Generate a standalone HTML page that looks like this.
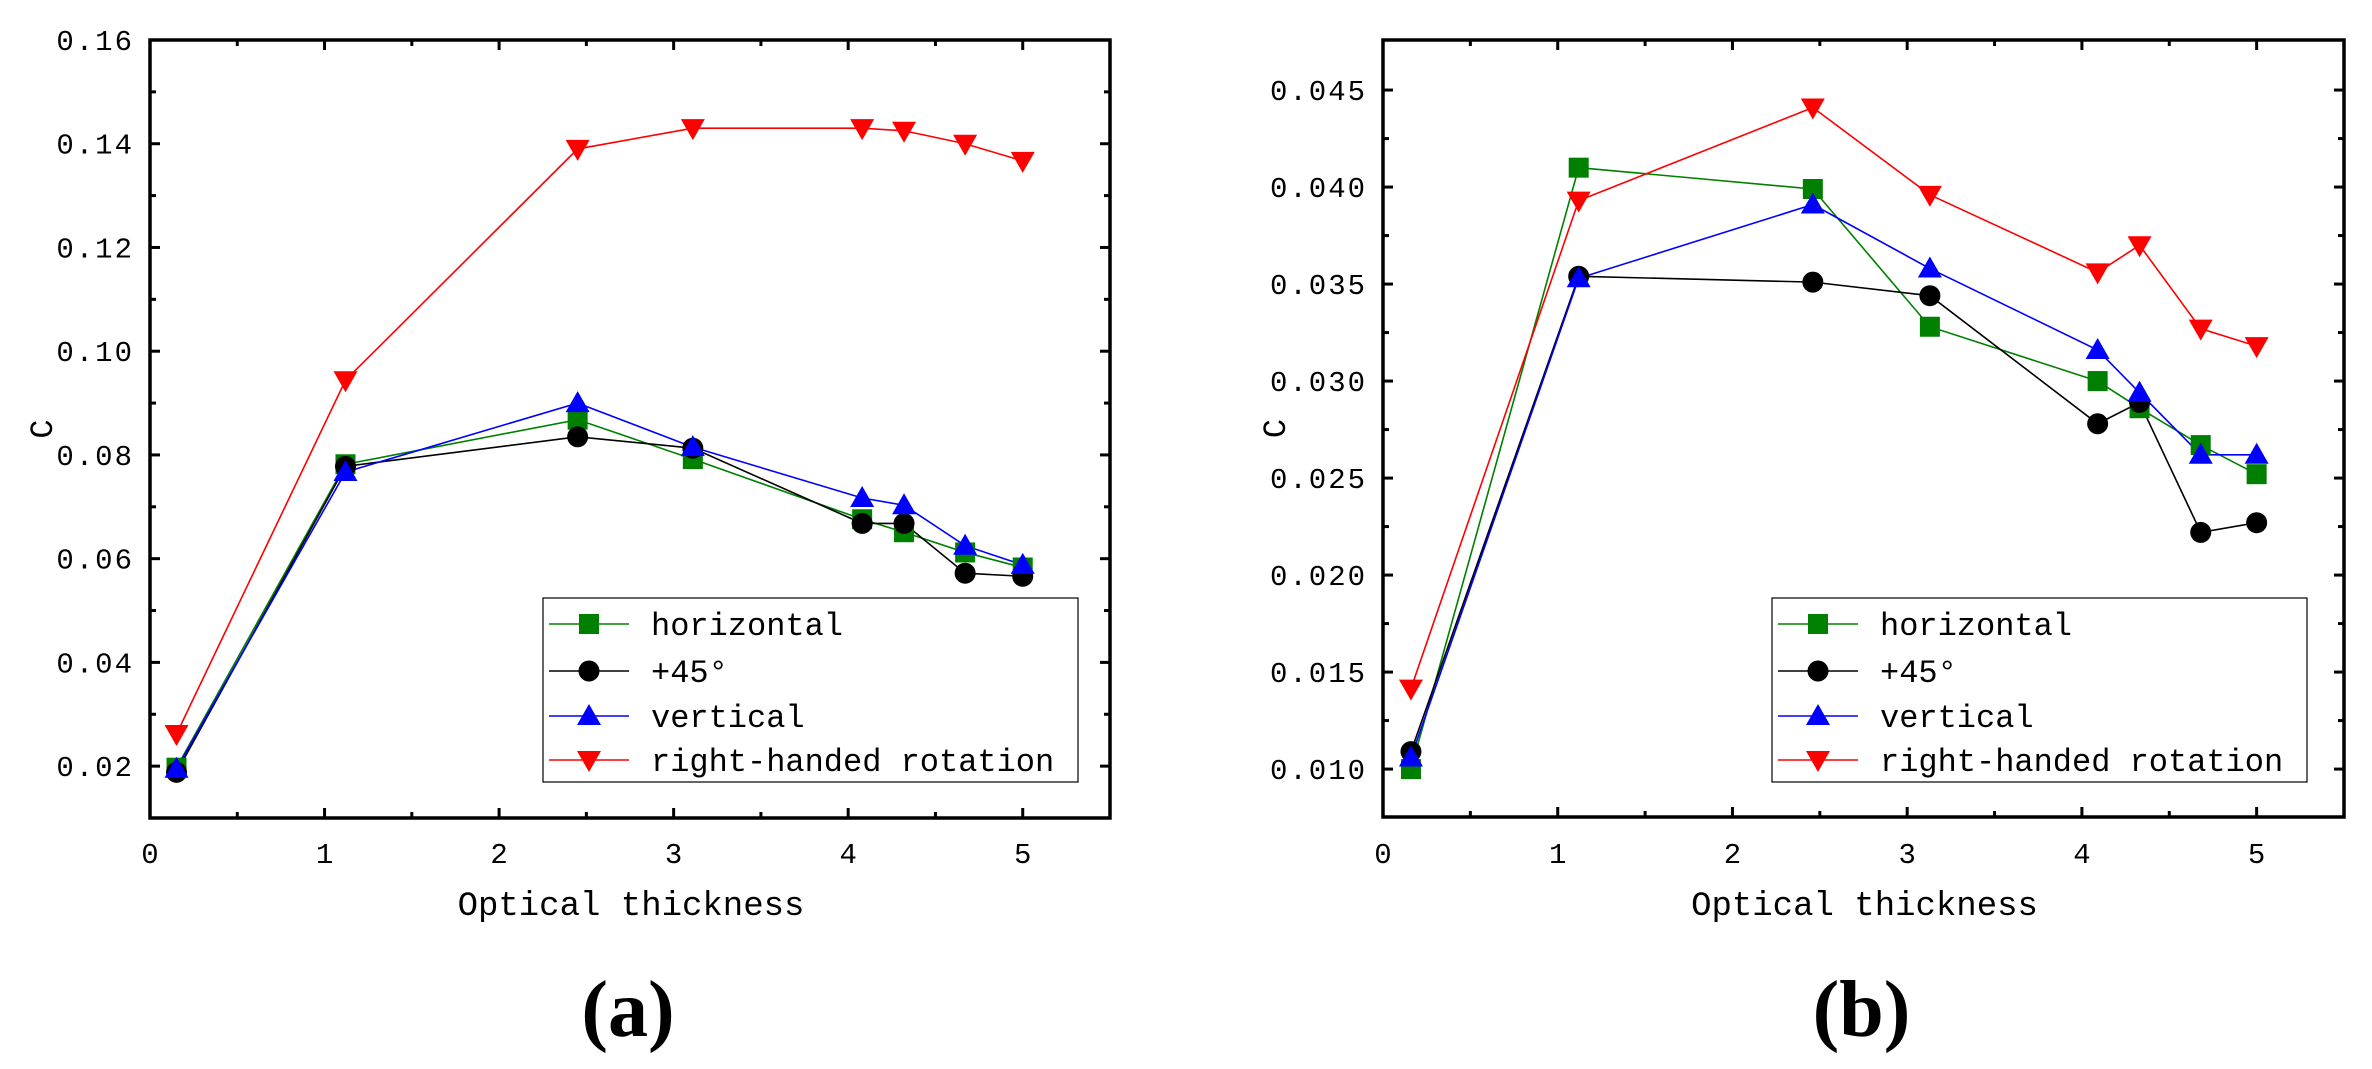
<!DOCTYPE html>
<html><head><meta charset="utf-8"><style>
html,body{margin:0;padding:0;background:#fff;}
svg{display:block;}
text{font-family:"Liberation Mono",monospace;}
</style></head><body>
<svg id="s" width="2372" height="1069" xmlns="http://www.w3.org/2000/svg"></svg>
<script>
const S=document.getElementById('s');let h='';
function chart(o){
 const {L,R,T,B,x0,x1,y0,y1,ymaj,ymin,fmt,data,lab,legX,labRight}=o;
 const X=v=>L+(v-x0)/(x1-x0)*(R-L), Y=v=>B-(v-y0)/(y1-y0)*(B-T);
 const cols={g:'#008000',k:'#000',b:'#0000ff',r:'#ff0000'};
 const order=['g','k','b','r'];
 for(const key of order){const d=data[key];
  h+=`<polyline fill="none" stroke="${cols[key]}" stroke-width="1.6" points="${d.map(p=>X(p[0])+','+Y(p[1])).join(' ')}"/>`;
 }
 function mk(key,x,y){const c=cols[key];
  if(key=='g')h+=`<rect x="${x-10}" y="${y-10}" width="20" height="20" fill="${c}"/>`;
  else if(key=='k')h+=`<circle cx="${x}" cy="${y}" r="10.5" fill="${c}"/>`;
  else if(key=='b')h+=`<polygon points="${x},${y-12} ${x+12},${y+9} ${x-12},${y+9}" fill="${c}"/>`;
  else h+=`<polygon points="${x},${y+12} ${x+12},${y-9} ${x-12},${y-9}" fill="${c}"/>`;}
 for(const key of order)for(const p of data[key])mk(key,X(p[0]),Y(p[1]));
 for(let i=0;i<=11;i++){const v=i*0.5,x=X(v),len=i%2?6:10;
  h+=`<line x1="${x}" y1="${B}" x2="${x}" y2="${B-len}" stroke="#000" stroke-width="3"/>`;
  h+=`<line x1="${x}" y1="${T}" x2="${x}" y2="${T+len}" stroke="#000" stroke-width="3"/>`;
  if(i%2==0&&v<=5)h+=`<text x="${x}" y="863" font-size="29" text-anchor="middle">${v}</text>`;}
 for(const v of ymaj){const y=Y(v);
  h+=`<line x1="${L}" y1="${y}" x2="${L+10}" y2="${y}" stroke="#000" stroke-width="3"/>`;
  h+=`<line x1="${R}" y1="${y}" x2="${R-10}" y2="${y}" stroke="#000" stroke-width="3"/>`;
  h+=`<text x="${labRight}" y="${y+10}" font-size="29" text-anchor="end" letter-spacing="2">${fmt(v)}</text>`;}
 for(const v of ymin){const y=Y(v);
  h+=`<line x1="${L}" y1="${y}" x2="${L+6}" y2="${y}" stroke="#000" stroke-width="3"/>`;
  h+=`<line x1="${R}" y1="${y}" x2="${R-6}" y2="${y}" stroke="#000" stroke-width="3"/>`;}
 h+=`<rect x="${L}" y="${T}" width="${R-L}" height="${B-T}" fill="none" stroke="#000" stroke-width="3.5"/>`;
 const lx=legX;h+=`<rect x="${lx}" y="598" width="535" height="184" fill="#fff" stroke="#000" stroke-width="1.2"/>`;
 const names={g:'horizontal',k:'+45°',b:'vertical',r:'right-handed rotation'};
 const rows=[624,671,716,760];
 order.forEach((key,i)=>{const y=rows[i];
  h+=`<line x1="${lx+6}" y1="${y}" x2="${lx+86}" y2="${y}" stroke="${cols[key]}" stroke-width="1.6"/>`;
  mk(key,lx+46,y);
  h+=`<text x="${lx+108}" y="${y+11}" font-size="32" textLength="${[10,4,8,21][i]*19.2}">${names[key]}</text>`;});
 const cx=(L+R)/2;
 h+=`<text x="${cx+1}" y="915" font-size="34" text-anchor="middle">Optical thickness</text>`;
 h+=`<text transform="translate(${L-108},${(T+B)/2}) rotate(-90)" font-size="32" text-anchor="middle" y="10">C</text>`;
 h+=`<text x="${cx-2}" y="1036" font-size="80" font-weight="bold" text-anchor="middle" style="font-family:'Liberation Serif',serif">${lab}</text>`;
}
chart({L:150,R:1110,T:40,B:818,x0:0,x1:5.5,y0:0.01,y1:0.16,
 ymaj:[0.02,0.04,0.06,0.08,0.10,0.12,0.14,0.16],ymin:[0.03,0.05,0.07,0.09,0.11,0.13,0.15],
 fmt:v=>v.toFixed(2),labRight:134,lab:'(a)',legX:543,
 data:{
 r:[[0.152,0.0262],[1.12,0.0944],[2.45,0.139],[3.11,0.143],[4.08,0.143],[4.32,0.1425],[4.67,0.140],[5.0,0.1367]],
 g:[[0.152,0.0197],[1.12,0.0782],[2.45,0.0868],[3.11,0.0792],[4.08,0.0676],[4.32,0.0651],[4.67,0.0612],[5.0,0.0583]],
 k:[[0.152,0.0188],[1.12,0.0778],[2.45,0.0835],[3.11,0.0813],[4.08,0.0668],[4.32,0.0668],[4.67,0.0572],[5.0,0.0566]],
 b:[[0.152,0.0195],[1.12,0.0767],[2.45,0.090],[3.11,0.0815],[4.08,0.0717],[4.32,0.0703],[4.67,0.0625],[5.0,0.0588]]}});
chart({L:1383,R:2344,T:40,B:817,x0:0,x1:5.5,y0:0.00753,y1:0.04758,
 ymaj:[0.010,0.015,0.020,0.025,0.030,0.035,0.040,0.045],ymin:[0.0125,0.0175,0.0225,0.0275,0.0325,0.0375,0.0425],
 fmt:v=>v.toFixed(3),labRight:1367,lab:'(b)',legX:1772,
 data:{
 r:[[0.16,0.01415],[1.12,0.0393],[2.46,0.0441],[3.13,0.0396],[4.09,0.0356],[4.33,0.0370],[4.68,0.0327],[5.0,0.0318]],
 g:[[0.16,0.010],[1.12,0.0410],[2.46,0.0399],[3.13,0.0328],[4.09,0.0300],[4.33,0.0286],[4.68,0.0267],[5.0,0.0252]],
 k:[[0.16,0.0109],[1.12,0.0354],[2.46,0.0351],[3.13,0.0344],[4.09,0.0278],[4.33,0.0289],[4.68,0.0222],[5.0,0.0227]],
 b:[[0.16,0.0106],[1.12,0.0353],[2.46,0.0391],[3.13,0.0358],[4.09,0.0316],[4.33,0.0294],[4.68,0.0262],[5.0,0.0262]]}});
S.innerHTML=h;
</script>
</body></html>
